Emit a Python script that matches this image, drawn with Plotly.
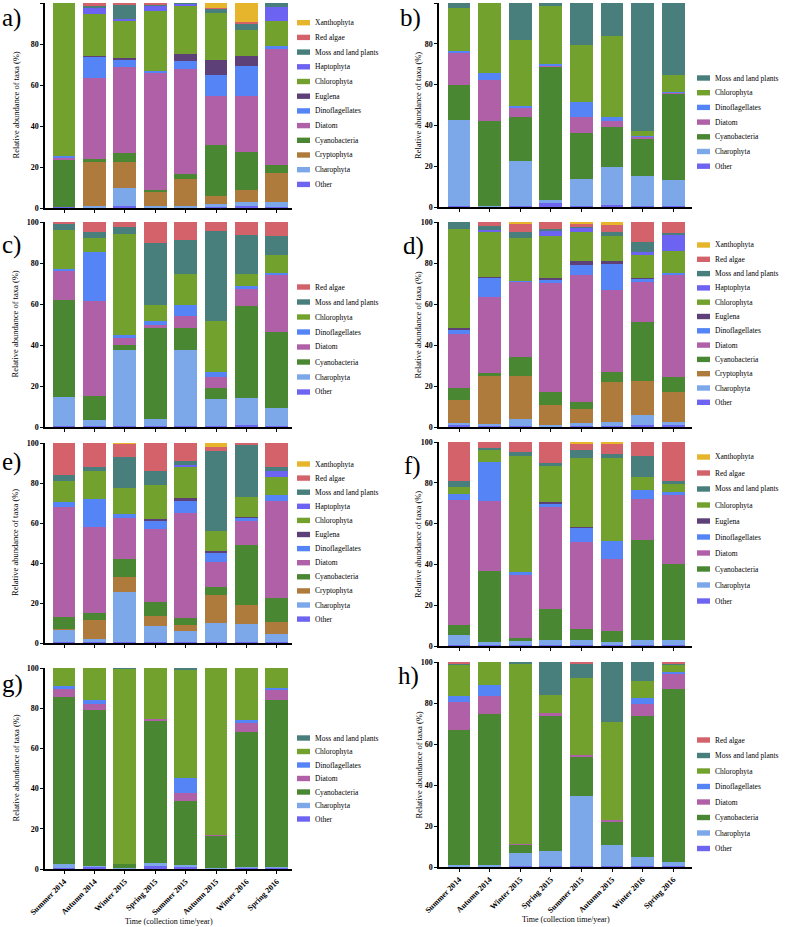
import plotly.graph_objects as go

seasons = ["Summer 2014", "Autumn 2014", "Winter 2015", "Spring 2015",
           "Summer 2015", "Autumn 2015", "Winter 2016", "Spring 2016"]

colors = {
    "Xanthophyta": "#E6B52B",
    "Red algae": "#D3626A",
    "Moss and land plants": "#487E7C",
    "Haptophyta": "#6C63F3",
    "Chlorophyta": "#73A12D",
    "Euglena": "#5E4079",
    "Dinoflagellates": "#5484F6",
    "Diatom": "#AF60A7",
    "Cyanobacteria": "#4A8733",
    "Cryptophyta": "#AE7B3C",
    "Charophyta": "#7CA7E8",
    "Other": "#6D64F2",
}

# stacking order, bottom to top
stack_order = ["Other", "Charophyta", "Cryptophyta", "Cyanobacteria", "Diatom",
               "Dinoflagellates", "Euglena", "Chlorophyta", "Haptophyta",
               "Moss and land plants", "Red algae", "Xanthophyta"]

panel_a = {
    "Other":                [0.3, 0.3, 1.0, 0.3, 0.3, 0.5, 1.0, 0.5],
    "Charophyta":           [0.0, 0.6, 9.0, 0.7, 0.5, 1.3, 2.0, 2.5],
    "Cryptophyta":          [0.0, 21.6, 12.5, 7.0, 13.2, 4.2, 6.0, 14.0],
    "Cyanobacteria":        [23.2, 1.5, 4.5, 1.0, 2.5, 24.5, 18.5, 4.0],
    "Diatom":               [1.0, 39.5, 42.0, 57.0, 51.5, 24.2, 27.0, 56.5],
    "Dinoflagellates":      [0.7, 10.5, 3.5, 1.0, 3.5, 10.3, 15.0, 1.5],
    "Euglena":              [0.0, 0.3, 0.5, 0.0, 3.5, 7.0, 4.5, 0.0],
    "Chlorophyta":          [74.8, 20.2, 18.0, 29.0, 24.0, 23.3, 13.0, 12.0],
    "Haptophyta":           [0.0, 3.5, 1.0, 3.0, 0.7, 0.0, 0.0, 7.0],
    "Moss and land plants": [0.0, 0.5, 7.5, 0.5, 0.3, 1.9, 3.0, 2.0],
    "Red algae":            [0.0, 1.5, 0.5, 0.5, 0.0, 0.4, 0.5, 0.0],
    "Xanthophyta":          [0.0, 0.0, 0.0, 0.0, 0.0, 2.4, 9.5, 0.0],
}

panel_b = {
    "Other":                [0.3, 0.3, 0.3, 1.8, 0.3, 0.8, 0.3, 0.3],
    "Charophyta":           [42.5, 0.3, 22.2, 1.7, 13.2, 18.7, 15.0, 12.7],
    "Cyanobacteria":        [17.2, 41.4, 21.8, 65.0, 23.0, 19.8, 18.5, 42.8],
    "Diatom":               [15.5, 20.5, 4.0, 1.0, 7.5, 2.7, 0.7, 0.5],
    "Dinoflagellates":      [0.8, 3.0, 1.2, 0.8, 7.5, 2.0, 0.3, 0.2],
    "Chlorophyta":          [21.4, 34.5, 32.5, 28.2, 28.0, 39.8, 2.5, 8.0],
    "Moss and land plants": [2.3, 0.0, 18.0, 1.5, 20.5, 16.2, 62.7, 35.5],
}

panel_c = {
    "Other":                [0.3, 0.3, 0.3, 0.3, 0.3, 0.3, 0.8, 0.3],
    "Charophyta":           [14.5, 2.9, 37.5, 3.5, 37.5, 13.5, 13.5, 9.2],
    "Cyanobacteria":        [47.2, 11.8, 2.0, 44.7, 10.7, 5.0, 44.7, 37.0],
    "Diatom":               [14.3, 46.5, 3.7, 1.5, 5.5, 5.5, 8.5, 27.5],
    "Dinoflagellates":      [0.7, 23.8, 1.3, 1.5, 5.5, 2.7, 1.5, 1.0],
    "Chlorophyta":          [19.3, 7.0, 49.5, 8.0, 15.0, 24.7, 5.5, 9.0],
    "Moss and land plants": [3.0, 3.0, 3.2, 30.5, 16.5, 44.1, 19.0, 9.0],
    "Red algae":            [0.7, 4.7, 2.5, 10.0, 9.0, 4.2, 6.5, 7.0],
}

panel_d = {
    "Other":                [0.8, 0.3, 0.5, 0.3, 0.5, 0.5, 0.8, 0.8],
    "Charophyta":           [1.2, 1.2, 3.5, 0.5, 1.5, 2.0, 5.0, 1.7],
    "Cryptophyta":          [11.3, 23.5, 21.0, 10.0, 6.8, 19.5, 16.7, 14.5],
    "Cyanobacteria":        [5.7, 1.3, 9.0, 6.2, 3.2, 5.0, 28.5, 7.3],
    "Diatom":               [26.5, 37.0, 36.8, 53.3, 62.3, 40.0, 19.8, 50.2],
    "Dinoflagellates":      [2.1, 9.7, 0.5, 1.7, 4.7, 12.5, 1.5, 0.8],
    "Euglena":              [0.7, 0.3, 0.0, 0.5, 2.0, 1.5, 0.5, 0.0],
    "Chlorophyta":          [48.2, 22.0, 21.0, 20.8, 14.3, 12.3, 11.0, 10.7],
    "Haptophyta":           [0.0, 1.0, 0.0, 2.2, 2.0, 0.0, 1.5, 7.5],
    "Moss and land plants": [3.5, 1.7, 2.7, 1.0, 0.3, 2.0, 5.0, 1.3],
    "Red algae":            [0.0, 2.0, 4.3, 3.5, 1.9, 3.0, 9.7, 5.2],
    "Xanthophyta":          [0.0, 0.0, 0.7, 0.0, 0.5, 1.7, 0.0, 0.0],
}

panel_e = {
    "Other":                [0.3, 0.3, 0.3, 0.3, 0.3, 0.3, 0.5, 0.3],
    "Charophyta":           [6.5, 1.5, 25.2, 8.2, 5.7, 9.7, 8.8, 4.2],
    "Cryptophyta":          [0.2, 9.7, 7.5, 5.0, 2.8, 14.2, 9.5, 6.0],
    "Cyanobacteria":        [6.0, 3.5, 9.0, 7.0, 3.7, 3.6, 30.0, 11.8],
    "Diatom":               [54.8, 42.8, 20.5, 36.5, 52.5, 12.7, 12.2, 48.7],
    "Dinoflagellates":      [2.5, 14.2, 1.8, 4.0, 6.0, 4.3, 1.5, 3.0],
    "Euglena":              [0.0, 0.0, 0.0, 0.8, 1.5, 1.0, 0.5, 0.0],
    "Chlorophyta":          [10.7, 14.0, 13.0, 17.0, 15.5, 10.0, 10.0, 8.8],
    "Haptophyta":           [0.0, 0.0, 0.0, 0.0, 1.0, 0.0, 0.0, 3.2],
    "Moss and land plants": [3.0, 2.0, 15.5, 7.2, 1.8, 40.0, 25.8, 2.0],
    "Red algae":            [16.0, 12.0, 6.8, 14.0, 9.2, 2.2, 1.2, 12.0],
    "Xanthophyta":          [0.0, 0.0, 0.4, 0.0, 0.0, 2.0, 0.0, 0.0],
}

panel_f = {
    "Other":                [0.5, 0.3, 0.3, 0.3, 0.3, 0.3, 0.3, 0.3],
    "Charophyta":           [4.8, 1.7, 2.2, 2.7, 2.7, 1.5, 2.5, 2.7],
    "Cyanobacteria":        [5.2, 35.0, 1.5, 15.0, 5.3, 5.7, 49.0, 37.3],
    "Diatom":               [61.3, 34.0, 30.8, 50.0, 42.7, 35.0, 20.5, 33.7],
    "Dinoflagellates":      [2.7, 19.3, 1.7, 1.8, 7.0, 8.8, 4.2, 1.3],
    "Euglena":              [0.0, 0.0, 0.0, 0.7, 0.5, 0.0, 0.0, 0.0],
    "Chlorophyta":          [3.3, 6.0, 56.8, 17.5, 33.5, 41.0, 6.3, 4.0],
    "Moss and land plants": [3.2, 0.7, 1.7, 1.5, 4.0, 2.0, 10.2, 1.7],
    "Red algae":            [19.0, 3.0, 5.0, 10.5, 3.3, 5.2, 7.0, 19.0],
    "Xanthophyta":          [0.0, 0.0, 0.0, 0.0, 0.7, 0.5, 0.0, 0.0],
}

panel_g = {
    "Other":                [0.5, 1.0, 0.3, 1.5, 1.2, 0.3, 0.5, 0.5],
    "Charophyta":           [1.8, 0.3, 0.2, 1.7, 0.8, 0.2, 0.3, 0.3],
    "Cyanobacteria":        [83.5, 77.7, 2.0, 70.3, 32.0, 16.0, 67.5, 83.2],
    "Diatom":               [4.0, 3.0, 0.0, 1.0, 4.0, 0.2, 4.2, 5.0],
    "Dinoflagellates":      [1.2, 2.0, 0.0, 0.0, 7.3, 0.0, 1.8, 1.3],
    "Chlorophyta":          [9.0, 16.0, 97.0, 25.5, 54.0, 83.3, 25.7, 9.7],
    "Moss and land plants": [0.0, 0.0, 0.5, 0.0, 0.7, 0.0, 0.0, 0.0],
}

panel_h = {
    "Other":                [0.3, 0.3, 0.3, 0.3, 0.3, 0.3, 0.3, 0.5],
    "Charophyta":           [0.9, 0.7, 6.5, 7.7, 34.2, 10.2, 4.5, 2.1],
    "Cyanobacteria":        [65.8, 73.5, 4.0, 65.8, 19.0, 11.5, 68.7, 84.4],
    "Diatom":               [13.5, 8.8, 0.4, 1.2, 1.0, 0.8, 5.8, 7.0],
    "Dinoflagellates":      [2.8, 5.7, 0.0, 0.0, 0.0, 0.0, 3.2, 1.3],
    "Chlorophyta":          [15.7, 11.0, 88.1, 9.0, 37.5, 48.0, 8.3, 3.0],
    "Moss and land plants": [0.3, 0.0, 0.7, 16.0, 7.5, 29.2, 9.2, 1.0],
    "Red algae":            [0.7, 0.0, 0.0, 0.0, 0.5, 0.0, 0.0, 0.7],
}

y_ticks = [0, 20, 40, 60, 80, 100]
y_title = "Relative abundance of taxa (%)"
x_title = "Time (collection time/year)"

# ---------------------------------------------------------------- layout
W, H = 787, 927
FONT = "Liberation Serif"


def fx(px):
    return px / W


def fy(py):
    return 1 - py / H


# (letter, data, plot box px (x0, x1, ytop, ybot), letter pos, legend top y, legend spacing, is_bottom)
panels = [
    ("a)", panel_a, (45, 292, 3, 208), (0, 18), 22.7, 14.7, False),
    ("b)", panel_b, (439, 692, 3, 207), (398, 18), 78, 14.7, False),
    ("c)", panel_c, (45, 292, 222, 427), (0, 245), 287, 15.0, False),
    ("d)", panel_d, (439, 692, 222, 427), (401, 246), 245, 14.3, False),
    ("e)", panel_e, (45, 292, 443, 643), (0, 462), 464, 14.1, False),
    ("f)", panel_f, (439, 692, 442, 646), (402, 466), 457, 16.0, False),
    ("g)", panel_g, (45, 292, 668, 869), (0, 684), 738, 13.5, True),
    ("h)", panel_h, (439, 692, 662, 867), (396, 676), 740, 15.5, True),
]

fig = go.Figure()
layout = dict(
    width=W, height=H, margin=dict(l=0, r=0, t=0, b=0, autoexpand=False),
    paper_bgcolor="white", plot_bgcolor="white",
    barmode="stack", bargap=0.25, showlegend=False,
    font=dict(family=FONT, color="black"),
)
annotations = []
shapes = []

for i, (letter, data, (x0, x1, yt, yb), (lx, ly), leg_top, leg_sp, bottom) in enumerate(panels):
    k = i + 1
    xa = "x" if k == 1 else f"x{k}"
    ya = "y" if k == 1 else f"y{k}"
    for taxon in stack_order:
        if taxon in data:
            fig.add_trace(go.Bar(
                x=seasons, y=data[taxon], name=taxon,
                marker=dict(color=colors[taxon], line=dict(width=0)),
                xaxis=xa, yaxis=ya, showlegend=False,
            ))
    left = x0 < 200
    first_c = 64 if left else 459
    step = 30.4 if left else 30.6
    xr = [(x0 - first_c) / step, (x1 - first_c) / step]
    layout["xaxis" + ("" if k == 1 else str(k))] = dict(
        domain=[fx(x0), fx(x1)], anchor=ya, type="category",
        categoryorder="array", categoryarray=seasons, range=xr,
        showline=True, linecolor="black", linewidth=1.5,
        ticks="outside", ticklen=3, tickwidth=1.2, tickcolor="black",
        showgrid=False, zeroline=False, automargin=False,
        showticklabels=bottom, tickangle=-45,
        tickfont=dict(family=FONT, size=8, weight="bold"),
    )
    layout["yaxis" + ("" if k == 1 else str(k))] = dict(
        domain=[fy(yb), fy(yt)], anchor=xa, range=[0, 100],
        tickvals=y_ticks, showline=True, linecolor="black", linewidth=1.5,
        ticks="outside", ticklen=3, tickwidth=1.2, tickcolor="black",
        showgrid=False, zeroline=False, automargin=False,
        tickfont=dict(family=FONT, size=8, weight="bold"),
    )
    # panel letter
    annotations.append(dict(
        text=letter, xref="paper", yref="paper", x=fx(lx), y=fy(ly),
        xanchor="left", yanchor="middle", showarrow=False,
        font=dict(family=FONT, size=25, color="black"),
    ))
    # y title
    annotations.append(dict(
        text=y_title, xref="paper", yref="paper",
        x=fx(15 if left else 418), y=fy((yt + yb) / 2),
        xanchor="center", yanchor="middle", textangle=-90, showarrow=False,
        font=dict(family=FONT, size=8.5, color="black"),
    ))
    if bottom:
        annotations.append(dict(
            text=x_title, xref="paper", yref="paper",
            x=fx((x0 + x1) / 2), y=fy(yb + 52),
            xanchor="center", yanchor="middle", showarrow=False,
            font=dict(family=FONT, size=8, color="black"),
        ))
    # legend drawn with shapes + annotations
    items = [t for t in reversed(stack_order) if t in data]
    sw0 = x1 + 5
    for j, taxon in enumerate(items):
        yc = leg_top + j * leg_sp
        shapes.append(dict(
            type="rect", xref="paper", yref="paper",
            x0=fx(sw0), x1=fx(sw0 + 13), y0=fy(yc + 2.7), y1=fy(yc - 2.7),
            fillcolor=colors[taxon], line=dict(width=0),
        ))
        annotations.append(dict(
            text=taxon, xref="paper", yref="paper",
            x=fx(sw0 + 16), y=fy(yc), xanchor="left", yanchor="middle",
            showarrow=False, font=dict(family=FONT, size=7.5, color="black"),
        ))

layout["annotations"] = annotations
layout["shapes"] = shapes
fig.update_layout(**layout)
fig.write_html("out.html", config={"displayModeBar": False},
               post_script="document.body.style.margin='0';")
